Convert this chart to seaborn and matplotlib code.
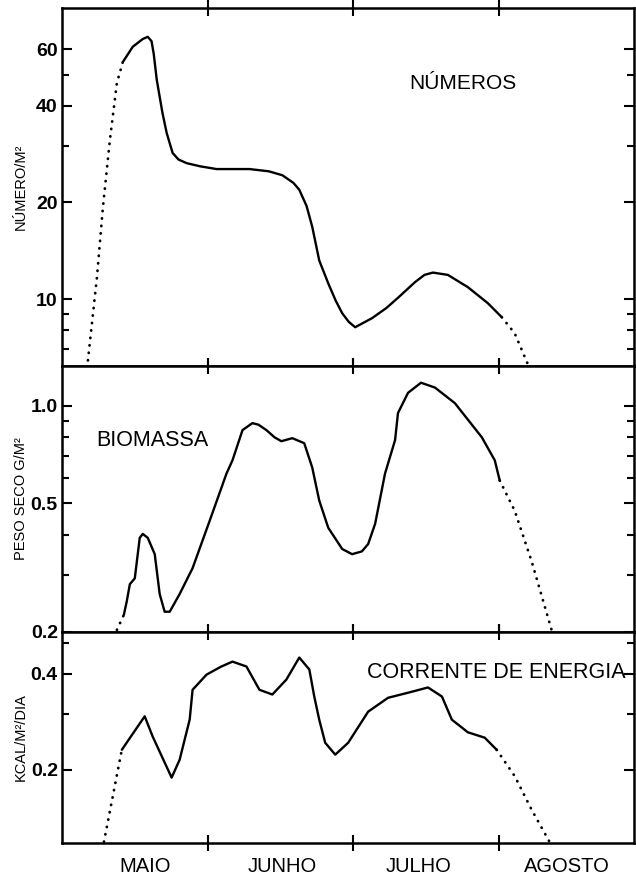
import matplotlib
matplotlib.use('Agg')
import matplotlib.pyplot as plt
import matplotlib.ticker as mticker
import seaborn as sns

# x in months from 1 May (0 = MAIO start, 1 = JUNHO, 2 = JULHO, 3 = AGOSTO)
months = ['MAIO', 'JUNHO', 'JULHO', 'AGOSTO']
month_label_pos = [0.57, 1.51, 2.45, 3.47]
month_bounds = [1, 2, 3]

# numbers per m2
num_start_x = [0.178, 0.240, 0.281, 0.329, 0.377, 0.418]
num_start_y = [6.45, 11.7, 19.3, 31.3, 47.1, 54.7]
num_x = [0.418, 0.486, 0.555, 0.589, 0.615, 0.630, 0.651, 0.690, 0.719, 0.760,
         0.800, 0.856, 0.950, 1.062, 1.288, 1.420, 1.514, 1.590, 1.630, 1.680,
         1.719, 1.767, 1.829, 1.880, 1.925, 1.970, 2.014, 2.130, 2.230, 2.308,
         2.425, 2.490, 2.548, 2.651, 2.788, 2.925, 3.021]
num_y = [54.7, 61.0, 64.5, 65.5, 63.5, 58.0, 48.1, 38.0, 32.9, 28.5,
         27.2, 26.5, 25.9, 25.4, 25.4, 25.0, 24.3, 23.0, 21.9, 19.5,
         16.8, 13.2, 11.2, 9.9, 9.04, 8.5, 8.18, 8.73, 9.4, 10.1,
         11.3, 11.9, 12.1, 11.9, 10.9, 9.72, 8.79]
num_end_x = [3.021, 3.110, 3.205]
num_end_y = [8.79, 7.83, 6.2]

# biomass, dry weight g/m2
bio_start_x = [0.377, 0.425]
bio_start_y = [0.203, 0.226]
bio_x = [0.425, 0.445, 0.466, 0.500, 0.534, 0.555, 0.589, 0.637, 0.671, 0.705,
         0.740, 0.808, 0.897, 1.014, 1.130, 1.171, 1.240, 1.308, 1.350, 1.404,
         1.460, 1.507, 1.582, 1.664, 1.719, 1.767, 1.829, 1.925, 1.993, 2.060,
         2.103, 2.151, 2.219, 2.288, 2.308, 2.377, 2.466, 2.562, 2.699, 2.884,
         2.973, 3.007]
bio_y = [0.226, 0.249, 0.281, 0.293, 0.391, 0.402, 0.391, 0.348, 0.262, 0.231,
         0.231, 0.262, 0.315, 0.441, 0.618, 0.679, 0.842, 0.885, 0.875, 0.842,
         0.800, 0.778, 0.795, 0.767, 0.645, 0.510, 0.420, 0.361, 0.348, 0.355,
         0.374, 0.432, 0.618, 0.784, 0.951, 1.098, 1.18, 1.14, 1.02, 0.80,
         0.679, 0.588]
bio_end_x = [3.007, 3.110, 3.226, 3.363]
bio_end_y = [0.588, 0.474, 0.331, 0.203]

# energy flow, kcal/m2/day
ene_start_x = [0.288, 0.411]
ene_start_y = [0.119, 0.231]
ene_x = [0.411, 0.568, 0.623, 0.753, 0.808, 0.877, 0.897, 0.993, 1.090, 1.171,
         1.267, 1.356, 1.445, 1.541, 1.630, 1.699, 1.733, 1.767, 1.808, 1.877,
         1.966, 2.103, 2.240, 2.404, 2.514, 2.610, 2.678, 2.788, 2.904, 2.986]
ene_y = [0.231, 0.294, 0.254, 0.189, 0.215, 0.287, 0.356, 0.397, 0.420, 0.436,
         0.421, 0.356, 0.344, 0.383, 0.449, 0.412, 0.339, 0.287, 0.243, 0.223,
         0.243, 0.304, 0.336, 0.351, 0.362, 0.339, 0.287, 0.262, 0.252, 0.231]
ene_end_x = [2.986, 3.110, 3.226, 3.349]
ene_end_y = [0.231, 0.191, 0.150, 0.119]

sns.set_style('ticks', {'axes.edgecolor': 'black', 'text.color': 'black',
                        'xtick.color': 'black', 'ytick.color': 'black',
                        'axes.labelcolor': 'black'})
plt.rcParams['font.family'] = ['Liberation Sans', 'DejaVu Sans']

fig = plt.figure(figsize=(6.36, 8.75), dpi=100)
gs = fig.add_gridspec(3, 1, height_ratios=[358, 266, 211], hspace=0,
                      left=0.0975, right=0.997, top=0.991, bottom=0.0366)
axes = [fig.add_subplot(gs[i]) for i in range(3)]

panels = [
    (num_start_x, num_start_y, num_x, num_y, num_end_x, num_end_y),
    (bio_start_x, bio_start_y, bio_x, bio_y, bio_end_x, bio_end_y),
    (ene_start_x, ene_start_y, ene_x, ene_y, ene_end_x, ene_end_y),
]
ylims = [(6.2, 80.6), (0.2, 1.33), (0.118, 0.54)]
majors = [[10, 20, 40, 60], [0.2, 0.5, 1.0], [0.2, 0.4]]
major_labels = [['10', '20', '40', '60'], ['0.2', '0.5', '1.0'], ['0.2', '0.4']]
minors = [[7, 8, 9, 30, 50], [0.3, 0.4, 0.6, 0.7, 0.8, 0.9], [0.3, 0.5]]
ylabels = ['NÚMERO/M²', 'PESO SECO G/M²', 'KCAL/M²/DIA']
dots = (0, (0.1, 2.6))

for ax, (sx, sy, x, y, ex, ey), lim, mj, ml, mn, lab in zip(
        axes, panels, ylims, majors, major_labels, minors, ylabels):
    sns.lineplot(x=sx, y=sy, ax=ax, color='black', lw=2.0, sort=False,
                 estimator=None, linestyle=dots, dash_capstyle='round')
    sns.lineplot(x=x, y=y, ax=ax, color='black', lw=1.7, sort=False,
                 estimator=None, solid_joinstyle='round', solid_capstyle='round')
    sns.lineplot(x=ex, y=ey, ax=ax, color='black', lw=2.0, sort=False,
                 estimator=None, linestyle=dots, dash_capstyle='round')
    ax.set_yscale('log')
    ax.set_ylim(*lim)
    ax.set_xlim(0, 3.93)
    ax.yaxis.set_major_locator(mticker.FixedLocator(mj))
    ax.yaxis.set_major_formatter(mticker.FixedFormatter(ml))
    ax.yaxis.set_minor_locator(mticker.FixedLocator(mn))
    ax.yaxis.set_minor_formatter(mticker.NullFormatter())
    ax.tick_params(axis='y', which='major', direction='in', length=7, width=1.5,
                   left=True, right=True, labelsize=14, pad=3)
    ax.tick_params(axis='y', which='minor', direction='in', length=5, width=1.5,
                   left=True, right=True)
    for t in ax.get_yticklabels():
        t.set_fontweight('bold')
    ax.set_xticks(month_bounds)
    ax.set_xticklabels([])
    ax.tick_params(axis='x', which='major', direction='inout', length=12, width=1.5,
                   top=True, bottom=True)
    ax.set_ylabel(lab, fontsize=10.5)
    ax.yaxis.set_label_coords(-0.06, 0.5)
    for s in ax.spines.values():
        s.set_linewidth(1.8)
        s.set_visible(True)

axes[2].set_xticks(month_label_pos, minor=True)
axes[2].set_xticklabels(months, minor=True, fontsize=14.5)
axes[2].tick_params(axis='x', which='minor', length=0, pad=10)
axes[2].set_xlabel('')

axes[0].text(0.70, 0.79, 'NÚMEROS', transform=axes[0].transAxes, fontsize=15,
             ha='center', va='center')
axes[1].text(0.06, 0.72, 'BIOMASSA', transform=axes[1].transAxes, fontsize=15.5,
             ha='left', va='center')
axes[2].text(0.985, 0.81, 'CORRENTE DE ENERGIA', transform=axes[2].transAxes,
             fontsize=15.5, ha='right', va='center')

fig.savefig('out.png', dpi=100)
